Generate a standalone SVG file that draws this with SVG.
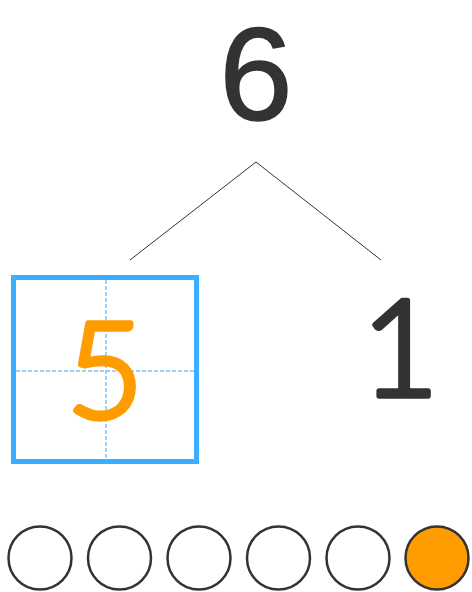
<svg xmlns="http://www.w3.org/2000/svg" width="472" height="592" viewBox="0 0 472 592">
<style>
.digit{font-family:Lato,"Noto Sans",sans-serif;font-weight:300;text-anchor:middle;stroke-linejoin:round;stroke-linecap:round}
.top{font-family:"Liberation Sans",Arial,sans-serif;font-weight:400;text-anchor:middle;stroke-linejoin:round;fill:#333333;stroke:#333333;stroke-width:1.5}
.dark{fill:#333333;stroke:#333333;stroke-width:5.5}
.orange{fill:#FF9D00;stroke:#FF9D00;stroke-width:5.5}
.conn{stroke:#333333;stroke-width:1;fill:none}
.dot{stroke:#333333;stroke-width:2.5;fill:#ffffff}
.guide{stroke:#7CC4FF;stroke-width:1.5;stroke-dasharray:4 2;fill:none}
</style>
<rect width="472" height="592" fill="#ffffff"/>
<g id="connectors">
<line class="conn" x1="256" y1="162" x2="130" y2="260"/>
<line class="conn" x1="256" y1="162" x2="381" y2="260"/>
</g>
<g id="node-6">
<text class="top" x="256" y="120" font-size="132">6</text>
</g>
<g id="node-5">
<rect x="13.5" y="277.5" width="183" height="184" fill="#ffffff" stroke="#3AAFFF" stroke-width="5"/>
<line class="guide" x1="106" y1="280" x2="106" y2="459"/>
<line class="guide" x1="16" y1="371" x2="194" y2="371"/>
<text class="digit orange" x="105" y="418" font-size="134">5</text>
</g>
<g id="node-1">
<text class="digit dark" x="400" y="396" font-size="134">1</text>
</g>
<g id="counters">
<circle class="dot" cx="40" cy="558" r="31.5"/>
<circle class="dot" cx="119.5" cy="558" r="31.5"/>
<circle class="dot" cx="199" cy="558" r="31.5"/>
<circle class="dot" cx="278.5" cy="558" r="31.5"/>
<circle class="dot" cx="358" cy="558" r="31.5"/>
<circle class="dot" cx="437" cy="558" r="31.5" style="fill:#FF9D00"/>
</g>
</svg>
